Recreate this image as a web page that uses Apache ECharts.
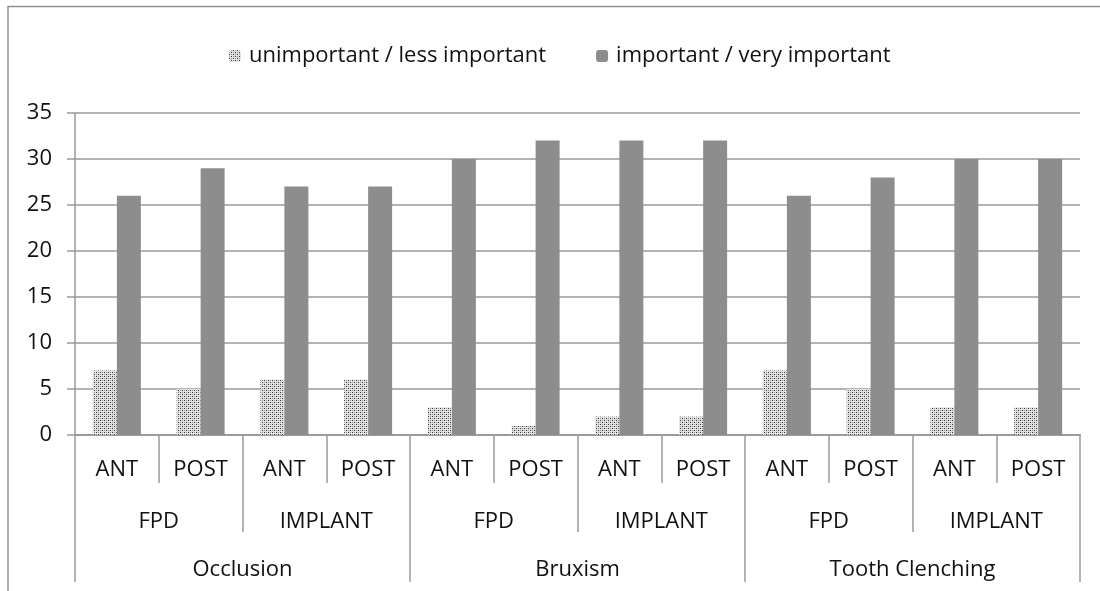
<!DOCTYPE html>
<html>
<head>
<meta charset="utf-8">
<script src="https://cdn.jsdelivr.net/npm/echarts@6/dist/echarts.min.js"></script>
<style>
  html, body { margin: 0; padding: 0; background: #fff; }
  #chart { width: 1100px; height: 591px; }
</style>
</head>
<body>
<div id="chart"></div>
<script>
// chart data
var subCats = ["ANT", "POST", "ANT", "POST", "ANT", "POST", "ANT", "POST", "ANT", "POST", "ANT", "POST"];
var groupCats = ["FPD", "IMPLANT", "FPD", "IMPLANT", "FPD", "IMPLANT"];
var topCats = ["Occlusion", "Bruxism", "Tooth Clenching"];
var unimportant = [7, 5, 6, 6, 3, 1, 2, 2, 7, 5, 3, 3];
var important = [26, 29, 27, 27, 30, 32, 32, 32, 26, 28, 30, 30];
var yTicks = { min: 0, max: 35, step: 5 };

var FONT = "Open Sans";
var FONT_SIZE = 22;
var AXIS_GRAY = "#9a9a9a";

// small dotted fill, like the excel pattern
function dotPattern() {
    var c = document.createElement("canvas");
    c.width = 4; c.height = 4;
    var ctx = c.getContext("2d");
    ctx.fillStyle = "#e2e2e2";
    ctx.fillRect(0, 0, 4, 4);
    ctx.fillStyle = "#333";
    ctx.fillRect(0, 0, 1, 1);
    ctx.fillRect(2, 2, 1, 1);
    ctx.fillStyle = "#999";
    ctx.fillRect(2, 0, 1, 1);
    ctx.fillRect(0, 2, 1, 1);
    return { image: c, repeat: "repeat" };
}

function levelAxis(data, tickLen, labelMargin) {
    return {
        type: "category",
        position: "bottom",
        data: data,
        axisLine: { show: true, lineStyle: { color: AXIS_GRAY, width: 1.5 } },
        axisTick: { show: true, interval: 0, length: tickLen, lineStyle: { color: AXIS_GRAY, width: 1.5 } },
        axisLabel: { interval: 0, margin: labelMargin, color: "#111", fontFamily: FONT, fontSize: FONT_SIZE },
        splitLine: { show: false }
    };
}

var chart = echarts.init(document.getElementById("chart"), null, { renderer: "canvas" });

var option = {
    animation: false,
    backgroundColor: "#fff",
    graphic: [{
        type: "polyline",
        silent: true,
        shape: { points: [[8, 600], [8, 6.5], [1100, 6.5]] },
        style: { stroke: "#8f8f8f", lineWidth: 1.5, fill: null }
    }],
    legend: {
        left: 224,
        top: 40,
        itemWidth: 12,
        itemHeight: 12,
        itemGap: 50,
        textStyle: { fontFamily: FONT, fontSize: FONT_SIZE, color: "#111", padding: [0, 0, 0, 3] },
        data: ["unimportant / less important", "important / very important"]
    },
    grid: { left: 75, right: 20, top: 113, bottom: 156 },
    xAxis: [
        levelAxis(subCats, 48, 24),
        levelAxis(groupCats, 97, 76),
        levelAxis(topCats, 147, 124)
    ],
    yAxis: {
        type: "value",
        min: yTicks.min,
        max: yTicks.max,
        interval: yTicks.step,
        axisLine: { show: true, lineStyle: { color: AXIS_GRAY, width: 1.5 } },
        axisTick: { show: true, length: 8, lineStyle: { color: AXIS_GRAY, width: 1.5 } },
        axisLabel: { margin: 23, color: "#111", fontFamily: FONT, fontSize: FONT_SIZE },
        splitLine: { show: true, lineStyle: { color: AXIS_GRAY, width: 1.5 } }
    },
    series: [
        {
            name: "unimportant / less important",
            type: "bar",
            xAxisIndex: 0,
            barWidth: 24,
            barGap: "0%",
            itemStyle: { color: dotPattern() },
            data: unimportant
        },
        {
            name: "important / very important",
            type: "bar",
            xAxisIndex: 0,
            barWidth: 24,
            barGap: "0%",
            itemStyle: { color: "#8d8d8d" },
            data: important
        }
    ]
};

chart.setOption(option);
</script>
</body>
</html>
